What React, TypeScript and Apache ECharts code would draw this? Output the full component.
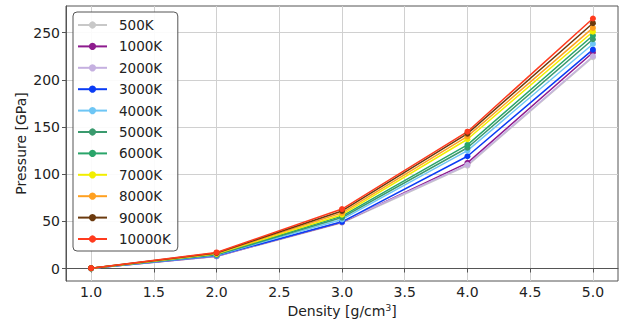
import React, { useEffect, useRef } from "react";
import * as echarts from "echarts";

const density = [1, 2, 3, 4, 5];
const seriesNames = ["500K", "1000K", "2000K", "3000K", "4000K", "5000K", "6000K", "7000K", "8000K", "9000K", "10000K"];
const p500 = [0.2, 12.8, 48.5, 109, 224];
const p1000 = [0.2, 13, 49, 112, 229];
const p2000 = [0.2, 13, 49.5, 110, 225];
const p3000 = [0.2, 13.5, 49.5, 119, 232];
const p4000 = [0.2, 14, 52, 125, 238];
const p5000 = [0.2, 14.5, 54, 128, 243];
const p6000 = [0.2, 15, 55.5, 131, 247];
const p7000 = [0.2, 15.5, 57, 137, 251];
const p8000 = [0.3, 16, 59, 140, 255];
const p9000 = [0.3, 16.5, 61, 143, 260];
const p10000 = [0.3, 17, 63, 145, 265];
const allValues = [p500, p1000, p2000, p3000, p4000, p5000, p6000, p7000, p8000, p9000, p10000];
const colors = ["#c8c8c8", "#8e1b8e", "#c5b0e0", "#0a3cf5", "#6ec6f5", "#3a9a6e", "#2aa56a", "#f2ee00", "#ffa020", "#6b3a0e", "#ff3b1e"];
const xTicks = [1, 1.5, 2, 2.5, 3, 3.5, 4, 4.5, 5];
const yTicks = [0, 50, 100, 150, 200, 250];

const FONT = "DejaVu Sans";

export default function App() {
  const ref = useRef<HTMLDivElement>(null);
  useEffect(() => {
    const chart = echarts.init(ref.current!, null, { renderer: "svg" });
    chart.setOption({
      animation: false,
      textStyle: { fontFamily: FONT },
      grid: { left: 66, right: 2, top: 6, bottom: 43, show: true, borderColor: "#555", borderWidth: 1, containLabel: false },
      legend: {
        orient: "vertical",
        left: 73,
        top: 12,
        padding: [5, 7, 4, 4],
        itemWidth: 29,
        itemHeight: 9,
        itemGap: 5.4,
        backgroundColor: "rgba(255,255,255,0.9)",
        borderColor: "#555",
        borderWidth: 1,
        borderRadius: 4,
        textStyle: { fontFamily: FONT, fontSize: 13.5, color: "#222", lineHeight: 16, padding: [0, 0, 0, 7] },
        data: seriesNames,
      },
      xAxis: {
        type: "value",
        min: 0.8,
        max: 5.2,
        name: "Density [g/cm{sup|3}]",
        nameLocation: "middle",
        nameGap: 22,
        nameMoveOverlap: false,
        nameTextStyle: {
          fontFamily: FONT, fontSize: 14, color: "#222",
          rich: { sup: { fontFamily: FONT, fontSize: 9, color: "#222", verticalAlign: "top", padding: [0, 0, 6, 0] } },
        },
        axisLine: { show: true, lineStyle: { color: "#555" } },
        axisTick: { show: true, length: 4, lineStyle: { color: "#555" }, customValues: xTicks },
        axisLabel: { fontFamily: FONT, fontSize: 14, color: "#222", margin: 4, customValues: xTicks, formatter: (v: number) => v.toFixed(1) },
        splitLine: { show: true, lineStyle: { color: "#d0d0d0", width: 1 } },
      },
      yAxis: {
        type: "value",
        min: -13.25,
        max: 278.25,
        name: "Pressure [GPa]",
        nameLocation: "middle",
        nameGap: 38,
        nameMoveOverlap: false,
        nameTextStyle: { fontFamily: FONT, fontSize: 14, color: "#222" },
        axisLine: { show: true, lineStyle: { color: "#555" } },
        axisTick: { show: true, length: 4, lineStyle: { color: "#555" }, customValues: yTicks },
        axisLabel: { fontFamily: FONT, fontSize: 14, color: "#222", margin: 6, customValues: yTicks },
        splitLine: { show: true, lineStyle: { color: "#d0d0d0", width: 1 } },
      },
      series: seriesNames.map((name, i) => ({
        name,
        type: "line",
        data: density.map((d, j) => [d, allValues[i][j]]),
        symbol: "circle",
        symbolSize: 6,
        lineStyle: { width: 1.5, color: colors[i] },
        itemStyle: { color: colors[i] },
        emphasis: { disabled: true },
      })),
    });
    return () => chart.dispose();
  }, []);
  return <div ref={ref} style={{ width: 620, height: 324, position: "absolute", left: 0, top: 0 }} />;
}
